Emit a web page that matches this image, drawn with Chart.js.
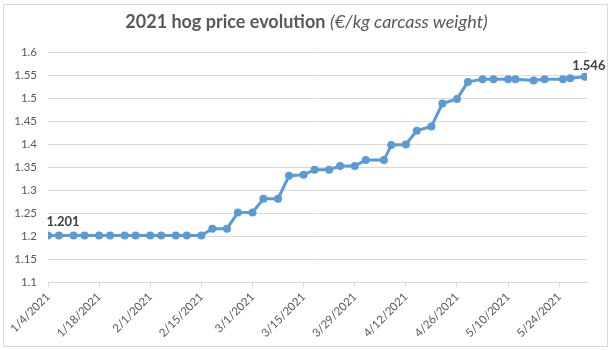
<!DOCTYPE html>
<html>
<head>
<meta charset="utf-8">
<script src="https://cdn.jsdelivr.net/npm/chart.js@4"></script>
<style>
  html, body { margin: 0; padding: 0; background: #fff; }
  #wrap { position: relative; width: 613px; height: 350px; }
  #frame {
    position: absolute; left: 3px; top: 4px; width: 603px; height: 341px;
    border: 1px solid #d9d9d9; pointer-events: none;
  }
  #title {
    position: absolute; left: 0; top: 10px; width: 613px; text-align: center;
    font-family: Lato, "Open Sans", sans-serif; font-size: 18px; color: #595959;
  }
  #title b { font-weight: 700; }
  #title i { font-weight: 400; }
  canvas { position: absolute; left: 0; top: 0; }
</style>
</head>
<body>
<div id="wrap">
  <canvas id="chart" width="613" height="350"></canvas>
  <div id="frame"></div>
  <div id="title"><b>2021 hog price evolution</b> <i>(€/kg carcass weight)</i></div>
</div>
<script>
'use strict';

// ─── Data ─────────────────────────────────────────────────────
const dates = [
  '1/4/2021', '1/7/2021', '1/11/2021', '1/14/2021', '1/18/2021', '1/21/2021',
  '1/25/2021', '1/28/2021', '2/1/2021', '2/4/2021', '2/8/2021', '2/11/2021',
  '2/15/2021', '2/18/2021', '2/22/2021', '2/25/2021', '3/1/2021', '3/4/2021',
  '3/8/2021', '3/11/2021', '3/15/2021', '3/18/2021', '3/22/2021', '3/25/2021',
  '3/29/2021', '4/1/2021', '4/6/2021', '4/8/2021', '4/12/2021', '4/15/2021',
  '4/19/2021', '4/22/2021', '4/26/2021', '4/29/2021', '5/3/2021', '5/6/2021',
  '5/10/2021', '5/12/2021', '5/17/2021', '5/20/2021', '5/25/2021', '5/27/2021',
  '5/31/2021',
];
const prices = [
  1.201, 1.201, 1.201, 1.201, 1.201, 1.201,
  1.201, 1.201, 1.201, 1.201, 1.201, 1.201,
  1.201, 1.216, 1.216, 1.251, 1.251, 1.281,
  1.281, 1.331, 1.333, 1.344, 1.344, 1.352,
  1.352, 1.365, 1.365, 1.398, 1.399, 1.429,
  1.438, 1.488, 1.498, 1.535, 1.541, 1.541,
  1.541, 1.541, 1.538, 1.541, 1.541, 1.543,
  1.546,
];
const xTickLabels = [
  '1/4/2021', '1/18/2021', '2/1/2021', '2/15/2021', '3/1/2021', '3/15/2021',
  '3/29/2021', '4/12/2021', '4/26/2021', '5/10/2021', '5/24/2021',
];
const yTicks = [1.1, 1.15, 1.2, 1.25, 1.3, 1.35, 1.4, 1.45, 1.5, 1.55, 1.6];

// days since 1/4/2021
function dayOf(s) {
  const [m, d, y] = s.split('/').map(Number);
  return Math.round((Date.UTC(y, m - 1, d) - Date.UTC(2021, 0, 4)) / 864e5);
}

const points = dates.map((s, i) => ({ x: dayOf(s), y: prices[i] }));
const tickDays = xTickLabels.map(dayOf);

const BLUE = '#5b9bd5';
const GREY = '#595959';
const GRID = '#d9d9d9';
const FONT = 'Lato, "Open Sans", sans-serif';

// first / last value labels, like the Excel data labels
const endLabels = {
  id: 'endLabels',
  afterDatasetsDraw(chart) {
    const meta = chart.getDatasetMeta(0);
    const ctx = chart.ctx;
    const first = meta.data[0];
    const last = meta.data[meta.data.length - 1];
    ctx.save();
    ctx.font = 'bold 13px ' + FONT;
    ctx.fillStyle = '#404040';
    ctx.textAlign = 'center';
    ctx.textBaseline = 'middle';
    ctx.fillText(prices[0].toFixed(3), first.x + 15, first.y - 14);
    ctx.fillText(prices[prices.length - 1].toFixed(3), last.x + 4, last.y - 11);
    ctx.restore();
  },
};

new Chart(document.getElementById('chart').getContext('2d'), {
  type: 'line',
  data: {
    datasets: [{
      data: points,
      borderColor: BLUE,
      backgroundColor: BLUE,
      borderWidth: 3,
      pointRadius: 4,
      pointBorderWidth: 0,
      pointBackgroundColor: BLUE,
      tension: 0,
    }],
  },
  options: {
    responsive: false,
    animation: false,
    layout: { padding: { left: 0, right: 26, top: 52, bottom: 0 } },
    plugins: { legend: { display: false }, tooltip: { enabled: false }, title: { display: false } },
    scales: {
      x: {
        type: 'linear',
        min: 0,
        max: 147.6,
        afterFit: s => { s.height = 68; },
        afterBuildTicks: s => { s.ticks = tickDays.map(v => ({ value: v })); },
        border: { display: true, color: GRID, width: 1 },
        grid: { drawOnChartArea: false, drawTicks: true, tickLength: 5, color: GRID },
        ticks: {
          autoSkip: false,
          minRotation: 45,
          maxRotation: 45,
          padding: 3,
          color: GREY,
          font: { family: FONT, size: 11.5 },
          callback: v => xTickLabels[tickDays.indexOf(v)] || '',
        },
      },
      y: {
        min: 1.1,
        max: 1.6,
        afterFit: s => { s.width = 48; },
        afterBuildTicks: s => { s.ticks = yTicks.map(v => ({ value: v })); },
        border: { display: false },
        grid: { color: GRID, drawTicks: false },
        ticks: {
          padding: 11,
          color: GREY,
          font: { family: FONT, size: 11.5 },
          callback: v => String(Math.round(v * 100) / 100),
        },
      },
    },
  },
  plugins: [endLabels],
});
</script>
</body>
</html>
